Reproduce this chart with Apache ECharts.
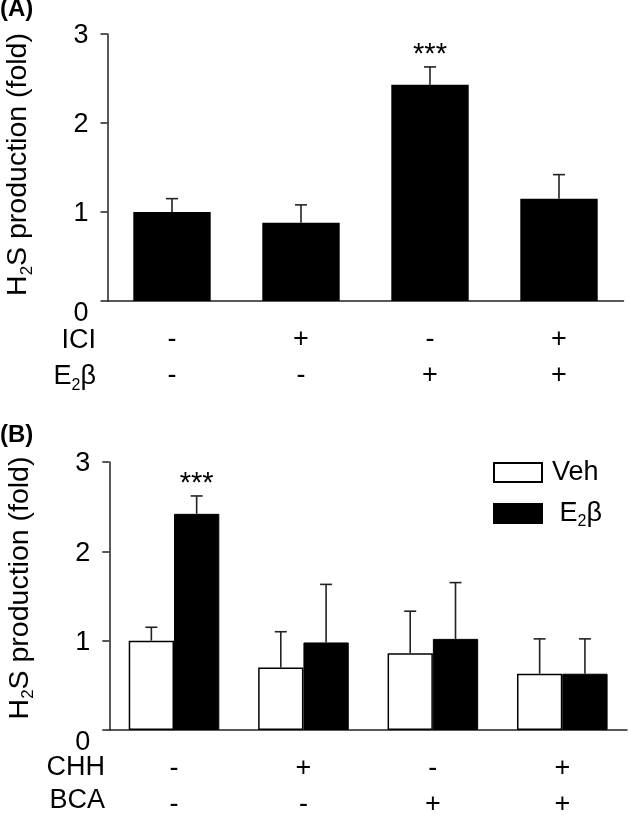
<!DOCTYPE html>
<html>
<head>
<meta charset="utf-8">
<script src="https://cdn.jsdelivr.net/npm/echarts@6/dist/echarts.min.js"></script>
<style>
html,body{margin:0;padding:0;background:#fff;}
#chart{width:629px;height:815px;}
</style>
</head>
<body>
<div id="chart"></div>
<script>
// ---- Data ----
const categories = ['g1', 'g2', 'g3', 'g4'];
const yTicks = [0, 1, 2, 3];
// Panel A
const iciSigns = ['-', '+', '-', '+'];
const e2SignsA = ['-', '-', '+', '+'];
const meanA = [1.00, 0.88, 2.43, 1.15];
const errTopA = [1.15, 1.08, 2.63, 1.42];
const sigA = ['', '', '***', ''];
// Panel B
const chhSigns = ['-', '+', '-', '+'];
const bcaSigns = ['-', '-', '+', '+'];
const vehB = [1.00, 0.70, 0.86, 0.63];
const vehErrTopB = [1.15, 1.10, 1.33, 1.02];
const e2B = [2.42, 0.98, 1.02, 0.63];
const e2ErrTopB = [2.62, 1.63, 1.65, 1.02];
const sigVehB = ['', '', '', ''];
const sigE2B = ['***', '', '', ''];

const FONT = '"Liberation Sans", Arial, Helvetica, sans-serif';
const AX = '#222';
function subStyle(size, drop, colorKey) {
  const s = { fontSize: size, fontFamily: FONT, verticalAlign: 'top', lineHeight: 8, padding: [drop, 0, 0, 0] };
  s[colorKey || 'color'] = '#000';
  return s;
}

function errSeries(name, xi, yi, means, tops, sigs, offset) {
  return {
    name: name,
    type: 'custom',
    xAxisIndex: xi, yAxisIndex: yi,
    z: 5,
    silent: true,
    data: means.map((m, i) => [i, m, tops[i]]),
    renderItem: function (params, api) {
      const idx = api.value(0);
      const base = api.coord([idx, api.value(1)]);
      const top = api.coord([idx, api.value(2)]);
      const band = api.size([1, 0])[0];
      const cx = base[0] + offset * band;
      const st = { stroke: AX, lineWidth: 1.6 };
      const children = [
        { type: 'line', shape: { x1: cx, y1: base[1], x2: cx, y2: top[1] }, style: st },
        { type: 'line', shape: { x1: cx - 6, y1: top[1], x2: cx + 6, y2: top[1] }, style: st }
      ];
      const s = sigs[params.dataIndex];
      if (s) {
        children.push({ type: 'text', x: cx, y: top[1] - 12,
          style: { text: s, fill: '#000', font: '29px ' + FONT, align: 'center', verticalAlign: 'middle' } });
      }
      return { type: 'group', children: children };
    }
  };
}

function yAxis(gi, shiftUp) {
  return {
    type: 'value', gridIndex: gi, min: yTicks[0], max: yTicks[yTicks.length - 1], interval: 1,
    splitLine: { show: false },
    axisLine: { show: true, lineStyle: { color: AX, width: 1.5 } },
    axisTick: { show: true, length: 7, lineStyle: { color: AX, width: 1.5 } },
    axisLabel: {
      fontSize: 27, fontFamily: FONT, color: '#000', margin: 19,
      formatter: v => v === 0 ? '{z|0}' : '{n|' + v + '}',
      rich: {
        z: { fontSize: 27, fontFamily: FONT, color: '#000', padding: [26, 0, 0, 0] },
        n: { fontSize: 27, fontFamily: FONT, color: '#000', padding: [4, 0, 0, 0] }
      }
    },
    name: 'H{sub|2}S production (fold)',
    nameLocation: 'middle', nameGap: 75,
    nameTextStyle: { fontSize: 28.5, fontFamily: FONT, color: '#000', padding: [0, 0, 0, shiftUp * 2],
      rich: { sub: subStyle(17, 15) } }
  };
}

function xAxis(gi, row1, row2) {
  return {
    type: 'category', gridIndex: gi, data: categories,
    axisLine: { lineStyle: { color: AX, width: 1.5 } },
    axisTick: { alignWithLabel: true, length: 6, lineStyle: { color: AX, width: 1.5 } },
    axisLabel: {
      interval: 0, fontSize: 27, fontFamily: FONT, color: '#000', lineHeight: 36, margin: 21,
      formatter: (v, i) => row1[i] + '\n' + row2[i]
    }
  };
}

function rowLabel(text, x, y) {
  return { type: 'text', x: x, y: y,
    style: { text: text, fill: '#000', font: '27px ' + FONT, align: 'right', verticalAlign: 'middle',
      rich: { sub: subStyle(16, 14, 'fill') } } };
}

const chart = echarts.init(document.getElementById('chart'), null, { renderer: 'canvas' });
chart.setOption({
  animation: false,
  backgroundColor: '#fff',
  grid: [
    { left: 107.5, right: 5.5, top: 34, height: 267, outerBoundsMode: 'none', containLabel: false },
    { left: 109.3, right: 2, top: 462, height: 268, outerBoundsMode: 'none', containLabel: false }
  ],
  xAxis: [xAxis(0, iciSigns, e2SignsA), xAxis(1, chhSigns, bcaSigns)],
  yAxis: [yAxis(0, 3), yAxis(1, 8)],
  legend: {
    data: ['Veh', 'E2β'],
    orient: 'vertical', left: 493, top: 459, padding: 0,
    icon: 'rect',
    itemWidth: 48, itemHeight: 19, itemGap: 14,
    selectedMode: false,
    formatter: n => n === 'E2β' ? ' E{sub|2}β' : n,
    textStyle: { fontSize: 27, fontFamily: FONT, color: '#000', padding: [0, 0, 0, 5],
      rich: { sub: subStyle(16, 14) } }
  },
  graphic: [
    { type: 'text', x: 0, y: -3, style: { text: '(A)', fill: '#000', font: 'bold 24px ' + FONT } },
    { type: 'text', x: 0, y: 423, style: { text: '(B)', fill: '#000', font: 'bold 24px ' + FONT } },
    rowLabel('ICI', 96, 341),
    rowLabel('E{sub|2}β', 96, 377),
    rowLabel('CHH', 105, 768),
    rowLabel('BCA', 105, 801)
  ],
  series: [
    { name: 'A', type: 'bar', xAxisIndex: 0, yAxisIndex: 0, data: meanA, barWidth: '60%',
      itemStyle: { color: '#000' } },
    errSeries('errA', 0, 0, meanA, errTopA, sigA, 0),
    { name: 'Veh', type: 'bar', xAxisIndex: 1, yAxisIndex: 1, data: vehB, barWidth: '35%', barGap: '0%',
      itemStyle: { color: '#fff', borderColor: '#000', borderWidth: 1.5 } },
    { name: 'E2β', type: 'bar', xAxisIndex: 1, yAxisIndex: 1, data: e2B, barWidth: '35%', barGap: '0%',
      itemStyle: { color: '#000', borderColor: '#000', borderWidth: 1 } },
    errSeries('errVeh', 1, 1, vehB, vehErrTopB, sigVehB, -0.175),
    errSeries('errE2', 1, 1, e2B, e2ErrTopB, sigE2B, 0.175)
  ]
});
</script>
</body>
</html>
